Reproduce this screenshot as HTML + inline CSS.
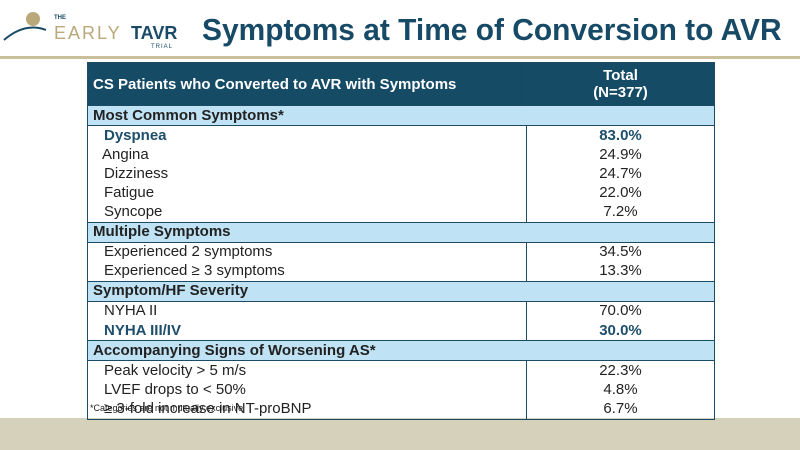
<!DOCTYPE html>
<html><head><style>
body{margin:0;width:800px;height:450px;background:#fff;position:relative;overflow:hidden;font-family:"Liberation Sans",sans-serif}
.title{position:absolute;left:202px;top:12px;font-size:31px;font-weight:bold;color:#174a66;white-space:nowrap;transform:scaleX(0.965);transform-origin:left top}
.gold{position:absolute;left:0;top:56px;width:800px;height:3px;background:#c9bf9a}
.band{position:absolute;left:0;top:418px;width:800px;height:32px;background:#d6d1ba}
table{position:absolute;left:87px;top:62px;width:628px;border-collapse:collapse;font-size:15px;color:#222}
td{border:1px solid #1c4b66;padding:0 0 0 5px;height:19.1px;line-height:18px;white-space:nowrap}
td.v{text-align:center;padding:0;width:187px}
.h td{background:#164b66;color:#fff;font-weight:bold;height:42px;font-size:15px;line-height:17px}
.s td{background:#bfe2f4;font-weight:bold}
.i{padding-left:16px}
.b{color:#1d4e6c;font-weight:bold}
.n td{border-top:none;border-bottom:none}
</style></head><body>
<svg style="position:absolute;left:0;top:8px" width="200" height="40">
<circle cx="33" cy="11" r="7" fill="#b9a87a"/>
<path d="M4 32 Q25 14 46 22" stroke="#1b4a66" stroke-width="2" fill="none"/>
<text x="54" y="11" font-size="6" fill="#1b4a66" font-family="Liberation Sans" font-weight="bold">THE</text>
<text x="54" y="31" font-size="18" fill="#b9a87a" font-family="Liberation Sans" letter-spacing="2">EARLY</text>
<text x="131" y="31" font-size="18" fill="#1b4a66" font-family="Liberation Sans" font-weight="bold">TAVR</text>
<text x="151" y="40" font-size="6" fill="#1b4a66" font-family="Liberation Sans" letter-spacing="1">TRIAL</text>
</svg>
<div class="title">Symptoms at Time of Conversion to AVR</div>
<div class="gold"></div>
<div class="band"></div>
<table>
<tr class="h"><td>CS Patients who Converted to AVR with Symptoms</td><td class="v">Total<br>(N=377)</td></tr>
<tr class="s"><td colspan="2">Most Common Symptoms*</td></tr>
<tr class="n"><td class="i b">Dyspnea</td><td class="v b">83.0%</td></tr>
<tr class="n"><td style="padding-left:14px">Angina</td><td class="v">24.9%</td></tr>
<tr class="n"><td class="i">Dizziness</td><td class="v">24.7%</td></tr>
<tr class="n"><td class="i">Fatigue</td><td class="v">22.0%</td></tr>
<tr class="n"><td class="i">Syncope</td><td class="v">7.2%</td></tr>
<tr class="s"><td colspan="2">Multiple Symptoms</td></tr>
<tr class="n"><td class="i">Experienced 2 symptoms</td><td class="v">34.5%</td></tr>
<tr class="n"><td class="i">Experienced ≥ 3 symptoms</td><td class="v">13.3%</td></tr>
<tr class="s"><td colspan="2">Symptom/HF Severity</td></tr>
<tr class="n"><td class="i">NYHA II</td><td class="v">70.0%</td></tr>
<tr class="n"><td class="i b">NYHA III/IV</td><td class="v b">30.0%</td></tr>
<tr class="s"><td colspan="2">Accompanying Signs of Worsening AS*</td></tr>
<tr class="n"><td class="i">Peak velocity &gt; 5 m/s</td><td class="v">22.3%</td></tr>
<tr class="n"><td class="i">LVEF drops to &lt; 50%</td><td class="v">4.8%</td></tr>
<tr class="n" style="border-bottom:1px solid #1c4b66"><td class="i" style="position:relative">≥ 3-fold increase in NT-proBNP<span style="position:absolute;left:2px;top:0;font-size:9px">*Categories are not mutually exclusive</span></td><td class="v">6.7%</td></tr>
</table>
</body></html>
